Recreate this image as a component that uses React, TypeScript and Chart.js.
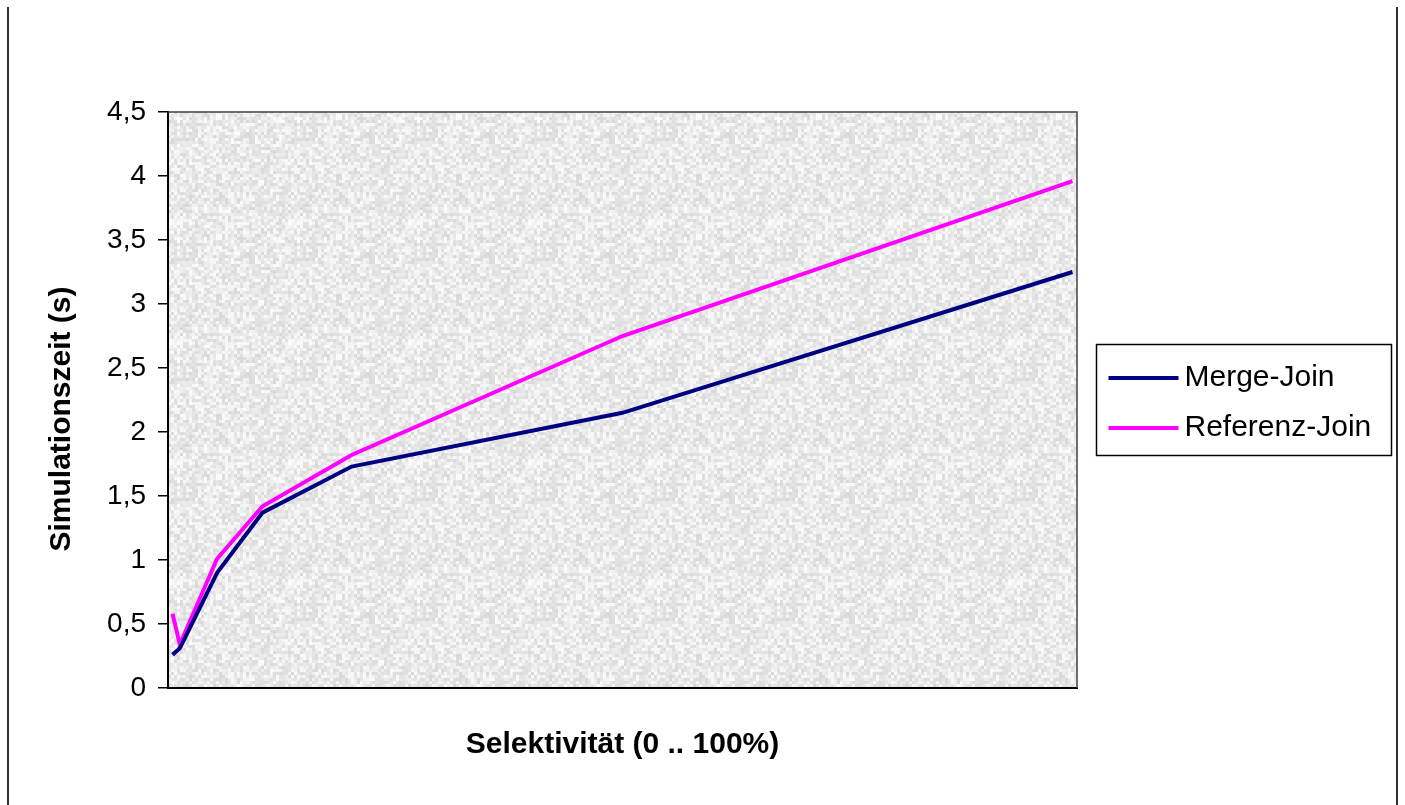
import React, { useEffect, useRef } from "react";
import { Chart, registerables } from "chart.js";

Chart.register(...registerables);

// Selectivity (%) of each measured point
const selectivity = [0.5, 1.3, 5.4, 10.4, 20.2, 50, 99.5];
// Simulation time (s)
const mergeJoin = [0.26, 0.31, 0.9, 1.37, 1.73, 2.15, 3.25];
const referenzJoin = [0.58, 0.34, 1.01, 1.42, 1.82, 2.75, 3.96];

const seriesLabels = ["Merge-Join", "Referenz-Join"];
const seriesColors = ["#000080", "#FF00FF"];
const yTitle = "Simulationszeit (s)";
const xTitle = "Selektivität (0 .. 100%)";

const FONT = "'Liberation Sans', Arial, sans-serif";

function hash(i: number, j: number) {
  let n = Math.imul(i, 374761393) + Math.imul(j, 668265263);
  n = Math.imul(n ^ (n >>> 13), 1274126177);
  n = n ^ (n >>> 16);
  return (n >>> 0) / 4294967296;
}

function makePattern(ctx: CanvasRenderingContext2D) {
  const c = document.createElement("canvas");
  const cell = 3;
  const n = 40;
  c.width = n * cell;
  c.height = n * cell;
  const g = c.getContext("2d")!;
  for (let i = 0; i < n; i++) {
    for (let j = 0; j < n; j++) {
      const r = hash(i, j);
      const v = Math.round(216 + r * 36);
      g.fillStyle = `rgb(${v},${v},${v})`;
      g.fillRect(i * cell, j * cell, cell, cell);
    }
  }
  return ctx.createPattern(c, "repeat");
}

const decorPlugin = {
  id: "decor",
  beforeDraw(chart: any) {
    const { ctx, chartArea, width, height } = chart;
    ctx.save();
    ctx.fillStyle = "#ffffff";
    ctx.fillRect(0, 0, width, height);
    const pat = makePattern(ctx);
    if (pat) {
      ctx.fillStyle = pat;
      ctx.fillRect(chartArea.left, chartArea.top, chartArea.right - chartArea.left, chartArea.bottom - chartArea.top);
    }
    ctx.restore();
  },
  afterDraw(chart: any) {
    const { ctx, chartArea } = chart;
    ctx.save();
    // plot area border (top / right)
    ctx.strokeStyle = "#404040";
    ctx.lineWidth = 1.5;
    ctx.beginPath();
    ctx.moveTo(chartArea.left, chartArea.top);
    ctx.lineTo(chartArea.right, chartArea.top);
    ctx.lineTo(chartArea.right, chartArea.bottom);
    ctx.stroke();

    // outer frame
    ctx.strokeStyle = "#303030";
    ctx.lineWidth = 2;
    ctx.beginPath();
    ctx.moveTo(8, 7);
    ctx.lineTo(8, 805);
    ctx.moveTo(1397, 7);
    ctx.lineTo(1397, 805);
    ctx.stroke();

    // axis titles
    ctx.fillStyle = "#000";
    ctx.font = `bold 30px ${FONT}`;
    ctx.textAlign = "center";
    ctx.textBaseline = "middle";
    ctx.fillText(xTitle, (chartArea.left + chartArea.right) / 2, 745);
    ctx.save();
    ctx.translate(62, 419);
    ctx.rotate(-Math.PI / 2);
    ctx.fillText(yTitle, 0, 0);
    ctx.restore();

    // legend
    const lx = chartArea.right + 19.5;
    const ly = 344.5;
    ctx.strokeStyle = "#000";
    ctx.lineWidth = 1.5;
    ctx.strokeRect(lx, ly, 295, 111);
    ctx.font = `30px ${FONT}`;
    ctx.textAlign = "left";
    chart.data.datasets.forEach((ds: any, i: number) => {
      const y = 378 + i * 50;
      ctx.strokeStyle = ds.borderColor;
      ctx.lineWidth = 4;
      ctx.beginPath();
      ctx.moveTo(lx + 12, y);
      ctx.lineTo(lx + 82, y);
      ctx.stroke();
      ctx.fillStyle = "#000";
      ctx.fillText(ds.label, lx + 88, y);
    });
    ctx.restore();
  },
};

export default function App() {
  const ref = useRef<HTMLCanvasElement>(null);
  useEffect(() => {
    if (!ref.current) return;
    const chart = new Chart(ref.current, {
      type: "line",
      data: {
        datasets: [mergeJoin, referenzJoin].map((vals, k) => ({
          label: seriesLabels[k],
          data: selectivity.map((x, i) => ({ x, y: vals[i] })),
          borderColor: seriesColors[k],
          backgroundColor: seriesColors[k],
          borderWidth: 4,
          pointRadius: 0,
          tension: 0,
          fill: false,
        })),
      },
      options: {
        animation: false,
        responsive: false,
        layout: { padding: { top: 112, right: 328, left: 0, bottom: 0 } },
        plugins: { legend: { display: false }, tooltip: { enabled: false } },
        scales: {
          x: {
            type: "linear",
            min: 0,
            max: 100,
            ticks: { display: false },
            grid: { display: false },
            border: { display: true, color: "#000", width: 2 },
            afterFit(s: any) {
              s.height = 805 - 688;
            },
          },
          y: {
            min: 0,
            max: 4.5,
            ticks: {
              stepSize: 0.5,
              callback: (v: any) => String(v).replace(".", ","),
              font: { family: FONT, size: 28 },
              color: "#000",
              padding: 12,
            },
            grid: { drawOnChartArea: false, drawTicks: true, tickLength: 10, color: "#000", lineWidth: 1.5 },
            border: { display: true, color: "#000", width: 2 },
            afterFit(s: any) {
              s.width = 168;
            },
          },
        },
      } as any,
      plugins: [decorPlugin],
    });
    return () => chart.destroy();
  }, []);
  return (
    <canvas
      ref={ref}
      width={1405}
      height={805}
      style={{ position: "absolute", left: 0, top: 0, width: 1405, height: 805 }}
    />
  );
}
